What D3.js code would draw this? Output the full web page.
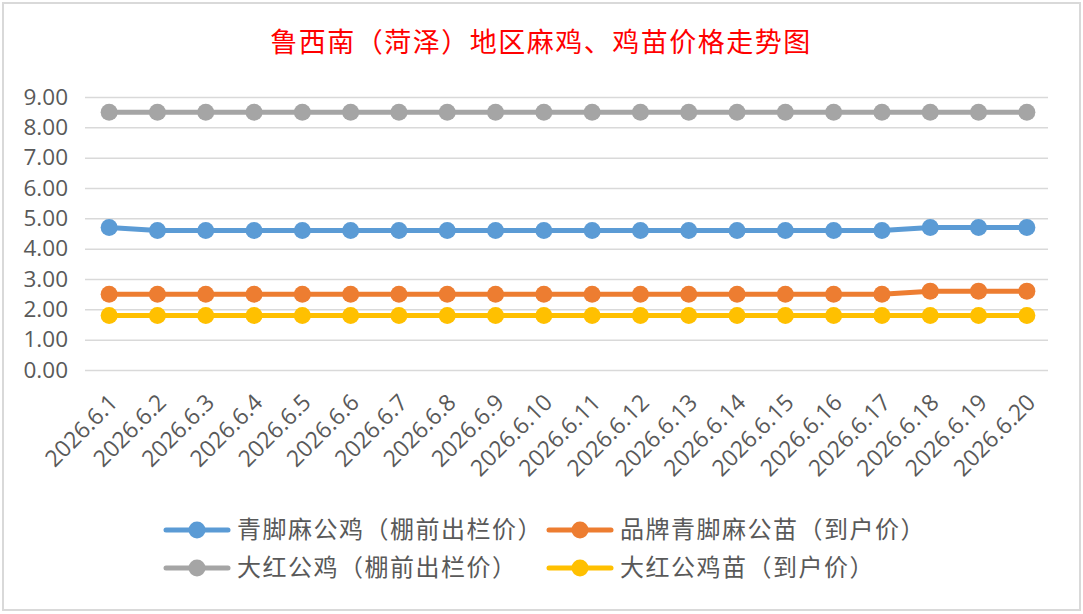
<!DOCTYPE html>
<html lang="zh">
<head>
<meta charset="UTF-8">
<title>鲁西南（菏泽）地区麻鸡、鸡苗价格走势图</title>
<script src="https://cdn.jsdelivr.net/npm/d3@7"></script>
<style>
html, body { margin: 0; padding: 0; background: #fff; }
svg { display: block; }
</style>
</head>
<body>
<svg id="chart" width="1083" height="614"></svg>
<script>
// chart data
const dates = [
    "2026.6.1", "2026.6.2", "2026.6.3", "2026.6.4", "2026.6.5",
    "2026.6.6", "2026.6.7", "2026.6.8", "2026.6.9", "2026.6.10",
    "2026.6.11", "2026.6.12", "2026.6.13", "2026.6.14", "2026.6.15",
    "2026.6.16", "2026.6.17", "2026.6.18", "2026.6.19", "2026.6.20"
];
const qingjiaoCock = [4.7, 4.6, 4.6, 4.6, 4.6, 4.6, 4.6, 4.6, 4.6, 4.6,
                      4.6, 4.6, 4.6, 4.6, 4.6, 4.6, 4.6, 4.7, 4.7, 4.7];
const qingjiaoChick = [2.5, 2.5, 2.5, 2.5, 2.5, 2.5, 2.5, 2.5, 2.5, 2.5,
                       2.5, 2.5, 2.5, 2.5, 2.5, 2.5, 2.5, 2.6, 2.6, 2.6];
const dahongCock = [8.5, 8.5, 8.5, 8.5, 8.5, 8.5, 8.5, 8.5, 8.5, 8.5,
                    8.5, 8.5, 8.5, 8.5, 8.5, 8.5, 8.5, 8.5, 8.5, 8.5];
const dahongChick = [1.8, 1.8, 1.8, 1.8, 1.8, 1.8, 1.8, 1.8, 1.8, 1.8,
                     1.8, 1.8, 1.8, 1.8, 1.8, 1.8, 1.8, 1.8, 1.8, 1.8];
const yTicks = [0, 1, 2, 3, 4, 5, 6, 7, 8, 9];

const TITLE = "鲁西南（菏泽）地区麻鸡、鸡苗价格走势图";
// legend order: blue, orange, gray, yellow
const series = [
    { name: "青脚麻公鸡（棚前出栏价）", values: qingjiaoCock, color: "#5B9BD5" },
    { name: "品牌青脚麻公苗（到户价）", values: qingjiaoChick, color: "#ED7D31" },
    { name: "大红公鸡（棚前出栏价）", values: dahongCock, color: "#A5A5A5" },
    { name: "大红公鸡苗（到户价）", values: dahongChick, color: "#FFC000" }
];

const W = 1083, H = 614;
const PLOT_LEFT = 85, PLOT_RIGHT = 1051;
const PLOT_TOP = 97, PLOT_BOTTOM = 370;
const AXIS_COLOR = "#595959";
const GRID_COLOR = "#D9D9D9";
const NUM_FONT = "'Open Sans', 'Noto Sans', sans-serif";
const CJK_FONT = "'Noto Sans CJK SC', sans-serif";

const svg = d3.select("#chart");

// chart frame
svg.append("rect")
    .attr("x", 3).attr("y", 3)
    .attr("width", W - 6).attr("height", H - 7)
    .attr("fill", "#fff")
    .attr("stroke", GRID_COLOR)
    .attr("stroke-width", 2);

svg.append("text")
    .attr("x", 541).attr("y", 52)
    .attr("text-anchor", "middle")
    .attr("fill", "#FF0000")
    .style("font", `27px ${CJK_FONT}`)
    .style("letter-spacing", "1.5px")
    .text(TITLE);

const x = d3.scaleBand().domain(dates).range([PLOT_LEFT, PLOT_RIGHT]);
const y = d3.scaleLinear().domain([0, 9]).range([PLOT_BOTTOM, PLOT_TOP]);
const cx = d => x(d) + x.bandwidth() / 2;

// y gridlines and labels
const yAxis = svg.append("g")
    .attr("transform", `translate(${PLOT_LEFT},0)`)
    .call(d3.axisLeft(y)
        .tickValues(yTicks)
        .tickSize(-(PLOT_RIGHT - PLOT_LEFT - 3))
        .tickPadding(17)
        .tickFormat(d3.format(".2f")));
yAxis.select(".domain").remove();
yAxis.selectAll(".tick line")
    .attr("stroke", GRID_COLOR)
    .attr("stroke-width", 1.5);
yAxis.selectAll(".tick text")
    .attr("fill", AXIS_COLOR)
    .style("font", `22.5px ${NUM_FONT}`);

// x labels, rotated
const xAxis = svg.append("g")
    .attr("transform", `translate(0,${PLOT_BOTTOM})`)
    .call(d3.axisBottom(x).tickSize(0).tickPadding(0));
xAxis.select(".domain").remove();
xAxis.selectAll(".tick text")
    .attr("fill", AXIS_COLOR)
    .style("font", `23px ${NUM_FONT}`)
    .attr("text-anchor", "end")
    .attr("dy", null)
    .attr("y", 0)
    .attr("transform", "translate(10,34) rotate(-45)");

// lines and markers
const line = d3.line()
    .x((d, i) => cx(dates[i]))
    .y(d => y(d));

for (const s of series) {
    const g = svg.append("g");
    g.append("path")
        .datum(s.values)
        .attr("d", line)
        .attr("fill", "none")
        .attr("stroke", s.color)
        .attr("stroke-width", 5)
        .attr("stroke-linejoin", "round");
    g.selectAll("circle")
        .data(s.values)
        .join("circle")
        .attr("cx", (d, i) => cx(dates[i]))
        .attr("cy", d => y(d))
        .attr("r", 8.5)
        .attr("fill", s.color);
}

// legend, two columns
const legendPos = [[166, 530], [549, 530], [166, 568], [549, 568]];
series.forEach((s, i) => {
    const [lx, ly] = legendPos[i];
    const g = svg.append("g").attr("transform", `translate(${lx},${ly})`);
    g.append("line")
        .attr("x1", 0).attr("x2", 62)
        .attr("stroke", s.color)
        .attr("stroke-width", 5)
        .attr("stroke-linecap", "round");
    g.append("circle").attr("cx", 31).attr("r", 8.5).attr("fill", s.color);
    g.append("text")
        .attr("x", 71).attr("y", 0).attr("dy", "0.35em")
        .attr("fill", AXIS_COLOR)
        .style("font", `24px ${CJK_FONT}`)
        .style("letter-spacing", "1.5px")
        .text(s.name);
});
</script>
</body>
</html>
